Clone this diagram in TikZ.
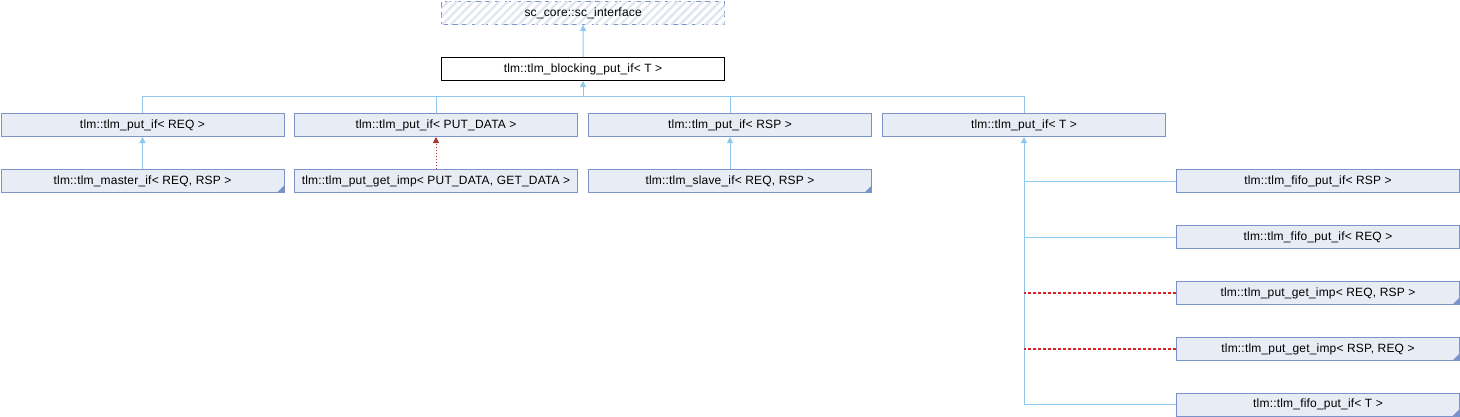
\documentclass[tikz,border=0pt]{standalone}
\usepackage{fontspec}
\setmainfont{Liberation Sans}
\usetikzlibrary{arrows.meta,patterns.meta}
\definecolor{boxfill}{HTML}{E8ECF5}
\definecolor{boxline}{HTML}{7B93C8}
\definecolor{inhline}{HTML}{8EC8EE}
\definecolor{tplline}{HTML}{A83232}
\definecolor{redline}{HTML}{E02020}
\definecolor{hatch}{HTML}{E0E5F0}
\tikzset{
  x=1pt,y=1pt,
  cls/.style={draw=boxline,fill=boxfill,line width=1pt,minimum width=283pt,minimum height=23pt,
    inner sep=0pt,anchor=north west,font=\fontsize{12}{14}\selectfont\addfontfeature{LetterSpace=1.6}},
  curcls/.style={cls,draw=black,fill=white},
  extcls/.style={cls,dash pattern=on 6pt off 4pt,fill=white,line width=1.3pt,
    postaction={pattern={Lines[angle=45,distance=6pt,line width=2.2pt]},pattern color=hatch}},
  inh/.style={draw=inhline,line width=1pt},
  inharr/.style={inh,-{Triangle[length=6pt,width=6pt]}},
  tpldot/.style={draw=tplline,line width=1pt,dotted,-{Triangle[length=6pt,width=6pt]}},
  tpldash/.style={draw=redline,line width=1.2pt,dash pattern=on 3pt off 2pt},
  corner/.style={fill=boxline,draw=none}
}
\newcommand{\foldcorner}[1]{\fill[corner] ([shift={(-0.5,0.5)}]#1.south east) -- ++(0,7) -- ++(-7,-7) -- cycle;}
\begin{document}
\begin{tikzpicture}
\useasboundingbox (0,0) rectangle (1460,-416);
% nodes
\node[extcls] (sci) at (441,-0.7) {sc\_core::sc\_interface};
\node[curcls] (blk) at (441,-57) {tlm::tlm\_blocking\_put\_if< T >};
\node[cls] (p1) at (0.5,-113) {tlm::tlm\_put\_if< REQ >};
\node[cls] (p2) at (294,-113) {tlm::tlm\_put\_if< PUT\_DATA >};
\node[cls] (p3) at (588,-113) {tlm::tlm\_put\_if< RSP >};
\node[cls] (p4) at (882,-113) {tlm::tlm\_put\_if< T >};
\node[cls] (m1) at (0.5,-169) {tlm::tlm\_master\_if< REQ, RSP >};
\node[cls] (g1) at (294,-169) {tlm::tlm\_put\_get\_imp< PUT\_DATA, GET\_DATA >};
\node[cls] (s1) at (588,-169) {tlm::tlm\_slave\_if< REQ, RSP >};
\node[cls] (r1) at (1176,-169) {tlm::tlm\_fifo\_put\_if< RSP >};
\node[cls] (r2) at (1176,-225) {tlm::tlm\_fifo\_put\_if< REQ >};
\node[cls] (r3) at (1176,-281) {tlm::tlm\_put\_get\_imp< REQ, RSP >};
\node[cls] (r4) at (1176,-337) {tlm::tlm\_put\_get\_imp< RSP, REQ >};
\node[cls] (r5) at (1176,-392.5) {tlm::tlm\_fifo\_put\_if< T >};
\foldcorner{m1}
\foldcorner{s1}
\foldcorner{r3}
\foldcorner{r4}
\foldcorner{r5}
% connectors
\coordinate (bus) at (blk.south |- 0,-96.5);
\draw[inharr] (blk.north) -- (sci.south);
\draw[inh] (p1.north) -- (p1.north |- bus) -- (p4.north |- bus) -- (p4.north);
\draw[inh] (p2.north) -- (p2.north |- bus);
\draw[inh] (p3.north) -- (p3.north |- bus);
\draw[inharr] (bus) -- (blk.south);
\draw[inharr] (m1.north) -- (p1.south);
\draw[inharr] (s1.north) -- (p3.south);
\draw[tpldot] (g1.north) -- (p2.south);
\draw[inharr] (r5.west) -| (p4.south);
\draw[inh] (r1.west) -- (r1.west -| p4.south);
\draw[inh] (r2.west) -- (r2.west -| p4.south);
\draw[tpldash] (r3.west) -- (r3.west -| p4.south);
\draw[tpldash] (r4.west) -- (r4.west -| p4.south);
\end{tikzpicture}
\end{document}
